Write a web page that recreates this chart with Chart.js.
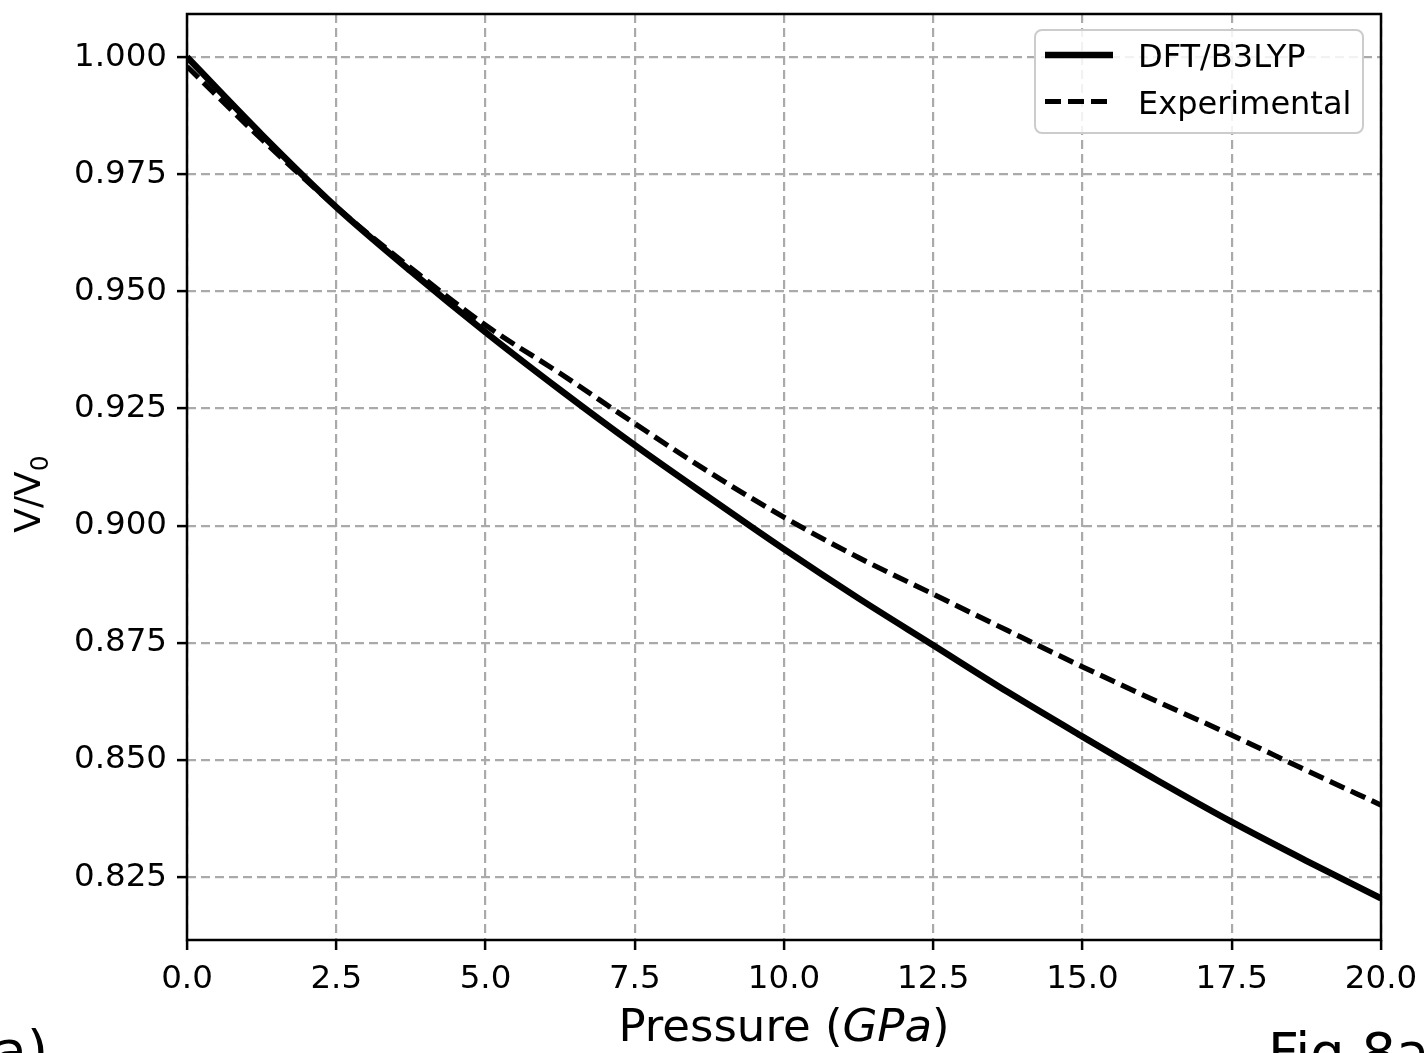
<!DOCTYPE html>
<html>
<head>
<meta charset="utf-8">
<script src="https://cdn.jsdelivr.net/npm/chart.js@4.4.0/dist/chart.umd.min.js"></script>
<style>
  body { margin: 0; background: #fff; }
</style>
</head>
<body>
<canvas id="myChart" width="1424" height="1053"></canvas>
<script>
// values
const pressure = [0, 1.25, 2.5, 3.75, 5, 6.25, 7.5, 8.75, 10, 11.25, 12.5, 13.75, 15, 16.25, 17.5, 18.75, 20];
const dftB3lyp = [1.000, 0.9835, 0.968, 0.9543, 0.9413, 0.929, 0.9172, 0.906, 0.895, 0.8845, 0.8745, 0.8645, 0.855, 0.8457, 0.8368, 0.8285, 0.8205];
const experimental = [0.998, 0.9825, 0.968, 0.955, 0.9428, 0.9325, 0.9218, 0.9114, 0.9018, 0.8932, 0.8854, 0.8776, 0.8699, 0.8625, 0.8553, 0.8478, 0.8404];

const xTickValues = [0, 2.5, 5, 7.5, 10, 12.5, 15, 17.5, 20];
const yTickValues = [0.825, 0.850, 0.875, 0.900, 0.925, 0.950, 0.975, 1.000];

const FONT = '"DejaVu Sans", sans-serif';

function toPoints(xs, ys) {
  return xs.map((x, i) => ({ x: x, y: ys[i] }));
}

// frame, legend and text labels drawn on top of the plot
const extras = {
  id: 'extras',
  afterDatasetsDraw(chart) {
    const ctx = chart.ctx;
    const a = chart.chartArea;
    ctx.save();
    ctx.strokeStyle = '#000';
    ctx.lineWidth = 2.5;
    ctx.setLineDash([]);
    ctx.strokeRect(a.left, a.top, a.right - a.left, a.bottom - a.top);
    ctx.restore();
  },
  afterDraw(chart) {
    const ctx = chart.ctx;
    const a = chart.chartArea;
    ctx.save();

    // legend box
    ctx.fillStyle = 'rgba(255,255,255,0.85)';
    ctx.strokeStyle = '#cccccc';
    ctx.lineWidth = 2;
    ctx.beginPath();
    ctx.roundRect(1035, 30, 328, 103, 7);
    ctx.fill();
    ctx.stroke();

    chart.data.datasets.forEach((ds, i) => {
      const y = 55 + i * 46.5;
      ctx.strokeStyle = ds.borderColor;
      ctx.lineWidth = ds.borderWidth;
      ctx.setLineDash(ds.borderDash || []);
      ctx.beginPath();
      ctx.moveTo(1045, y);
      ctx.lineTo(1113, y);
      ctx.stroke();
      ctx.setLineDash([]);
      ctx.fillStyle = '#000';
      ctx.font = '32px ' + FONT;
      ctx.textAlign = 'left';
      ctx.textBaseline = 'alphabetic';
      ctx.fillText(ds.label, 1138, y + 12);
    });

    // x axis title with italic unit
    ctx.fillStyle = '#000';
    ctx.textBaseline = 'alphabetic';
    const parts = [['Pressure (', '45px ' + FONT], ['GPa', 'italic 45px ' + FONT], [')', '45px ' + FONT]];
    let total = 0;
    parts.forEach(p => { ctx.font = p[1]; total += ctx.measureText(p[0]).width; });
    let x = (a.left + a.right) / 2 - total / 2;
    parts.forEach(p => {
      ctx.font = p[1];
      ctx.textAlign = 'left';
      ctx.fillText(p[0], x, 1041);
      x += ctx.measureText(p[0]).width;
    });

    // y axis title V/V0
    ctx.save();
    ctx.translate(40, 494);
    ctx.rotate(-Math.PI / 2);
    ctx.font = '36px ' + FONT;
    const w1 = ctx.measureText('V/V').width;
    ctx.font = '25px ' + FONT;
    const w2 = ctx.measureText('0').width;
    const sx = -(w1 + w2) / 2;
    ctx.font = '36px ' + FONT;
    ctx.fillText('V/V', sx, 0);
    ctx.font = '25px ' + FONT;
    ctx.fillText('0', sx + w1, 8);
    ctx.restore();

    // panel labels
    ctx.font = '54px ' + FONT;
    ctx.textAlign = 'right';
    ctx.fillText('a)', 48, 1069);
    ctx.textAlign = 'left';
    ctx.fillText('Fig 8a', 1268, 1071);

    ctx.restore();
  }
};

const gridCommon = {
  color: '#aaaaaa',
  lineWidth: 2.2,
  tickColor: '#000',
  tickWidth: 2.5,
  tickLength: 10,
  tickBorderDash: []
};

const config = {
  type: 'line',
  data: {
    datasets: [{
      label: 'DFT/B3LYP',
      data: toPoints(pressure, dftB3lyp),
      borderColor: '#000',
      borderWidth: 6.5,
      pointRadius: 0,
      cubicInterpolationMode: 'monotone',
      clip: 0
    }, {
      label: 'Experimental',
      data: toPoints(pressure, experimental),
      borderColor: '#000',
      borderWidth: 5.2,
      borderDash: [16, 7],
      pointRadius: 0,
      cubicInterpolationMode: 'monotone',
      clip: 0
    }]
  },
  options: {
    responsive: false,
    animation: false,
    layout: { padding: { left: 0, right: 43, top: 14, bottom: 0 } },
    plugins: {
      legend: { display: false },
      tooltip: { enabled: false }
    },
    scales: {
      x: {
        type: 'linear',
        min: 0,
        max: 20,
        afterBuildTicks: (scale) => { scale.ticks = xTickValues.map(v => ({ value: v })); },
        afterFit: (scale) => {
          scale.height = 113;
          scale.paddingLeft = 0;
          scale.paddingRight = 0;
        },
        grid: gridCommon,
        border: { display: false, dash: [9, 5] },
        ticks: {
          color: '#000',
          padding: 10,
          maxRotation: 0,
          font: { family: FONT, size: 32.5 },
          callback: (v) => Number(v).toFixed(1)
        }
      },
      y: {
        type: 'linear',
        min: 0.8116,
        max: 1.0092,
        afterBuildTicks: (scale) => { scale.ticks = yTickValues.map(v => ({ value: v })); },
        afterFit: (scale) => {
          scale.width = 187;
          scale.paddingTop = 0;
          scale.paddingBottom = 0;
        },
        grid: gridCommon,
        border: { display: false, dash: [9, 5] },
        ticks: {
          color: '#000',
          padding: 10,
          font: { family: FONT, size: 32.5 },
          callback: (v) => Number(v).toFixed(3)
        }
      }
    }
  },
  plugins: [extras]
};

const myChart = new Chart(document.getElementById('myChart'), config);
</script>
</body>
</html>
